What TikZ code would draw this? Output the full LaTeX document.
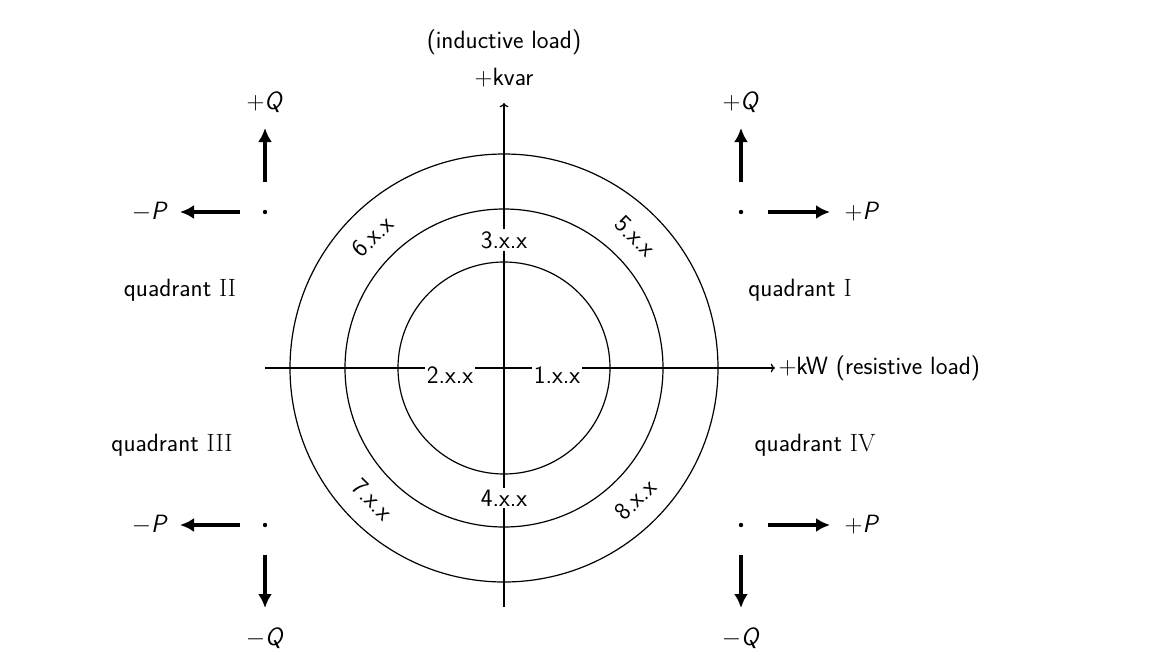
\documentclass[tikz,border=0pt]{standalone}
\usetikzlibrary{calc,arrows.meta}
\renewcommand{\familydefault}{\sfdefault}
\begin{document}
\begin{tikzpicture}[x=1pt,y=-1pt,
  txt/.style={font=\fontsize{25}{30}\selectfont\sffamily},
  lab/.style={txt,fill=white,inner sep=2pt},
  thin/.style={line width=1.2pt},
  bigarrow/.style={line width=3.2pt,-{Latex[length=14pt,width=14pt]}}]
\useasboundingbox (0,0) rectangle (1154,664);
\coordinate (c) at (504,368);
\draw[thin] (c) circle (214);
\draw[thin] (c) circle (159);
\draw[thin] (c) circle (106);
\coordinate (xl) at (265,368); \coordinate (xr) at (775,368);
\coordinate (yb) at (504,607); \coordinate (yt) at (504,103);
\draw[thin,->] (xl) -- (xr);
\draw[thin,->] (yb) -- (yt);
\node[lab] (n1) at (557,375) {1.x.x};
\node[lab] (n2) at (450,375) {2.x.x};
\node[lab] (n3) at (504,240) {3.x.x};
\node[lab] (n4) at (504,498) {4.x.x};
\node[txt,rotate=-45] (n5) at ($(c)+(-45:186)$) {5.x.x};
\node[txt,rotate=45] (n6) at ($(c)+(-135:186)$) {6.x.x};
\node[txt,rotate=-45] (n7) at ($(c)+(135:186)$) {7.x.x};
\node[txt,rotate=45] (n8) at ($(c)+(45:186)$) {8.x.x};
\node[txt,anchor=west] (kw) at (xr) {$+$kW (resistive load)};
\node[txt] (kv) at (504,78) {$+$kvar};
\node[txt] (il) at (504,42) {(inductive load)};
\node[txt] (q1) at (800,290) {quadrant \textrm{I}};
\node[txt] (q2) at (180,290) {quadrant \textrm{II}};
\node[txt] (q3) at (172,445) {quadrant \textrm{III}};
\node[txt] (q4) at (815,445) {quadrant \textrm{IV}};
% top-right
\fill (741,212) circle (2.2);
\coordinate (a1) at (741,182); \node[txt] (tq1) at (741,102) {$+$\textit{Q}};
\draw[bigarrow] (a1) -- (741,128);
\coordinate (b1) at (768,212); \node[txt] (tp1) at (862,212) {$+$\textit{P}};
\draw[bigarrow] (b1) -- (830,212);
% top-left
\fill (265,212) circle (2.2);
\coordinate (a2) at (265,182); \node[txt] (tq2) at (265,102) {$+$\textit{Q}};
\draw[bigarrow] (a2) -- (265,128);
\coordinate (b2) at (240,212); \node[txt] (tp2) at (150,212) {$-$\textit{P}};
\draw[bigarrow] (b2) -- (180,212);
% bottom-left
\fill (265,525) circle (2.2);
\coordinate (a3) at (265,555); \node[txt] (tq3) at (265,638) {$-$\textit{Q}};
\draw[bigarrow] (a3) -- (265,608);
\coordinate (b3) at (240,525); \node[txt] (tp3) at (150,525) {$-$\textit{P}};
\draw[bigarrow] (b3) -- (180,525);
% bottom-right
\fill (741,525) circle (2.2);
\coordinate (a4) at (741,555); \node[txt] (tq4) at (741,638) {$-$\textit{Q}};
\draw[bigarrow] (a4) -- (741,608);
\coordinate (b4) at (768,525); \node[txt] (tp4) at (862,525) {$+$\textit{P}};
\draw[bigarrow] (b4) -- (830,525);
\end{tikzpicture}
\end{document}
